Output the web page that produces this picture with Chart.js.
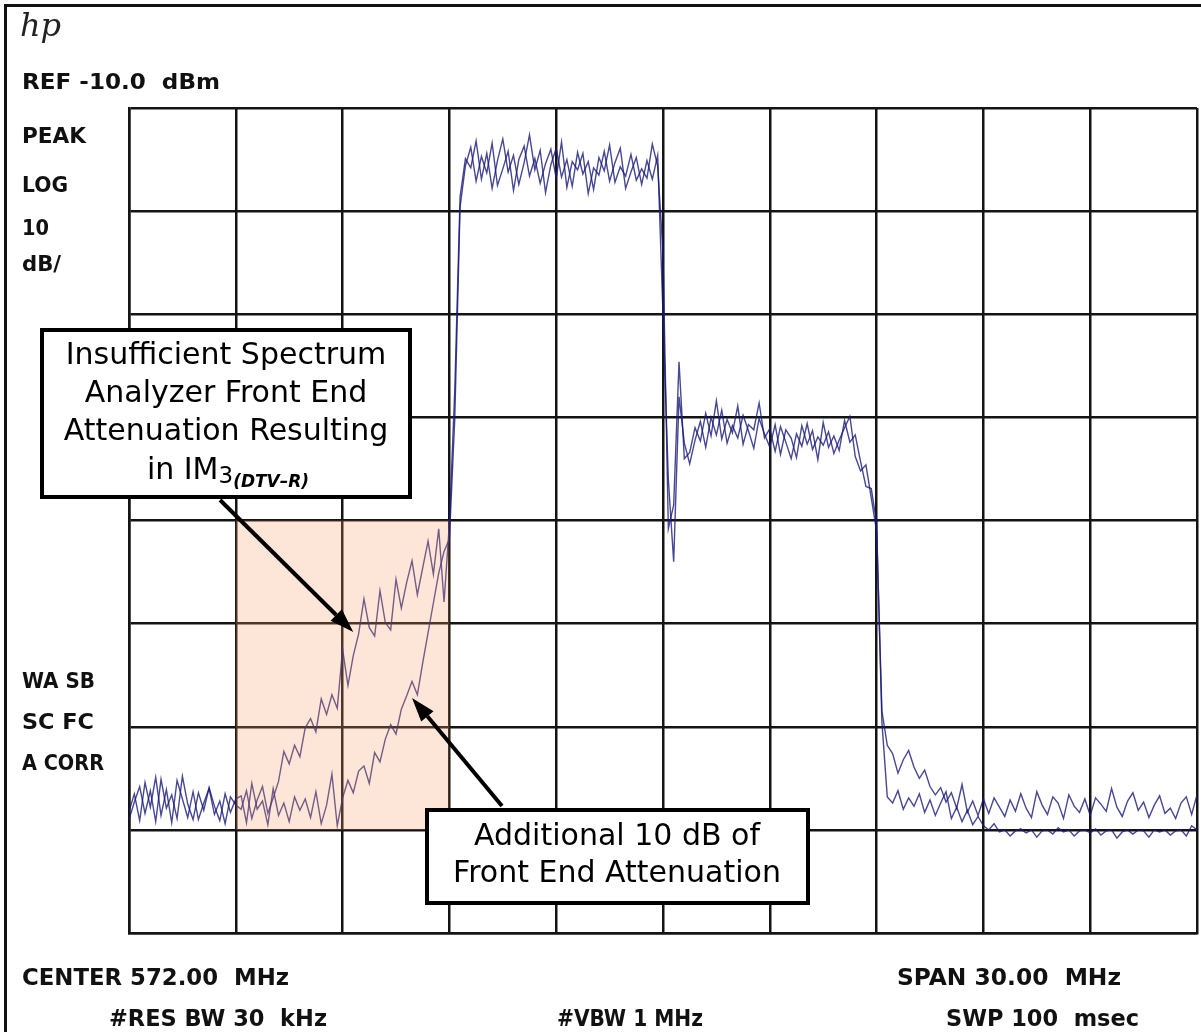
<!DOCTYPE html>
<html>
<head>
<meta charset="utf-8">
<title>Analyseur de spectre - IM3 (DTV-R)</title>
<script src="https://cdn.jsdelivr.net/npm/chart.js@4.4.1/dist/chart.umd.min.js"></script>
<style>
  html, body { margin: 0; padding: 0; background: #fff; }
  #wrap { position: relative; width: 1201px; height: 1032px; }
</style>
</head>
<body>
<div id="wrap"><canvas id="analyseur"></canvas></div>
<script>
// Balayage de l'analyseur : 557 à 587 MHz (centre 572 MHz, span 30 MHz)
const startMHz = 557;
const stepMHz = 0.15;
const spanMHz = [557, 587];
const refLevelDb = [-90, -10]; // 10 dB/div, REF -10 dBm

// Trace sans atténuation supplémentaire (IM3 visible à gauche)
const traceA = [
  -78.2, -76.5, -79.1, -75.4, -77.8, -74.9, -78.6, -76.1, -79.3, -75.2,
  -77.0, -78.8, -76.3, -79.0, -77.4, -76.0, -78.5, -77.2, -79.4, -76.8,
  -77.6, -78.0, -76.2, -78.9, -77.1, -75.8, -78.4, -76.9, -75.3, -72.4,
  -73.6, -71.8, -72.9, -70.1, -69.2, -70.5, -67.3, -68.8, -66.9, -68.2,
  -62.5, -66.0, -63.1, -61.0, -57.6, -60.4, -61.2, -56.8, -59.9, -60.6,
  -55.7, -58.5, -56.0, -53.9, -57.2, -54.6, -52.0, -55.2, -50.8, -57.9,
  -50.3, -37.5, -18.6, -14.9, -15.8, -13.2, -16.9, -14.4, -17.8, -15.1,
  -13.0, -16.2, -14.6, -17.4, -15.3, -12.6, -16.0, -14.1, -18.2, -15.5,
  -13.9, -16.7, -15.0, -17.6, -14.3, -16.4, -15.2, -17.9, -14.8, -16.1,
  -13.6, -17.2, -15.7, -16.6, -14.5, -17.0, -15.9, -16.8, -13.5, -15.6,
  -24.0, -50.8, -48.5, -34.6, -44.0, -43.4, -41.0, -42.3, -39.6, -41.8,
  -38.4, -42.1, -40.2, -41.5, -38.9, -42.6, -40.7, -41.2, -38.6, -42.0,
  -41.1, -43.3, -40.9, -42.4, -44.0, -41.6, -42.8, -40.6, -43.1, -41.9,
  -42.7, -41.4, -43.5, -42.2, -41.0, -39.9, -43.8, -45.2, -44.6, -47.8,
  -51.0, -68.5, -71.8, -72.6, -74.5, -73.2, -72.3, -73.9, -75.0, -74.2,
  -75.8, -76.6, -75.9, -77.3, -76.4, -77.9, -75.6, -78.3, -77.2, -78.6,
  -77.0, -78.4, -76.9, -77.8, -78.7, -77.1, -78.2, -76.5, -77.9, -78.8,
  -76.3, -77.6, -78.5, -76.8, -77.4, -78.9, -76.6, -77.7, -78.3, -77.0,
  -78.6, -76.9, -77.5, -78.2, -76.0, -77.8, -78.7, -77.2, -76.4, -78.1,
  -77.3, -78.8, -77.6, -76.7, -78.4, -77.9, -78.9, -77.4, -76.8, -78.5,
  -76.6,
];

// Trace avec 10 dB d'atténuation supplémentaire
const traceB = [
  -79.0, -77.3, -75.8, -78.4, -76.2, -79.2, -75.1, -77.9, -76.6, -78.9,
  -74.8, -77.5, -79.0, -76.4, -78.1, -75.9, -77.7, -79.1, -76.5, -78.3,
  -77.0, -76.7, -79.3, -75.5, -78.0, -77.2, -79.5, -76.0, -78.6, -77.4,
  -79.2, -76.8, -78.1, -77.0, -78.8, -76.3, -79.4, -77.6, -74.6, -79.6,
  -76.9, -75.2, -76.4, -74.3, -73.8, -75.5, -72.5, -73.4, -71.2, -69.8,
  -70.7, -68.3, -67.0, -65.6, -66.9, -63.8, -60.9, -58.0, -55.1, -53.0,
  -51.8, -40.2, -19.6, -15.6, -13.8, -17.1, -14.7, -16.3, -13.4, -17.5,
  -15.9, -14.2, -18.0, -15.0, -13.7, -16.6, -14.9, -17.3, -15.4, -14.0,
  -16.8, -13.3, -17.7, -15.2, -16.0, -14.4, -18.3, -15.8, -16.5, -14.2,
  -17.1, -15.3, -13.9, -17.8, -16.2, -14.8, -17.4, -15.1, -16.9, -14.6,
  -30.0, -46.0, -54.0, -38.0, -42.5, -44.5, -42.2, -40.4, -42.9, -40.0,
  -41.7, -39.3, -42.5, -40.8, -42.0, -39.8, -41.3, -43.0, -40.1, -41.6,
  -42.9, -40.7, -43.6, -41.2, -42.0, -43.9, -40.8, -42.6, -41.3, -44.1,
  -40.5, -42.9, -41.8, -43.2, -40.3, -42.4, -41.7, -44.3, -46.7, -46.9,
  -50.2, -69.6, -76.8, -77.4, -76.2, -78.0, -76.9, -77.7, -76.5, -78.3,
  -77.1, -78.6, -77.4, -76.3, -78.9, -77.8, -79.2, -78.1, -79.5, -78.7,
  -79.6, -80.0, -79.4, -80.2, -80.0, -80.6, -80.1, -79.9, -80.3, -80.0,
  -80.7, -80.1, -80.0, -80.4, -79.8, -80.2, -80.0, -80.6, -80.1, -80.0,
  -80.3, -79.9, -80.5, -80.1, -80.0, -80.8, -80.2, -80.0, -80.4, -80.0,
  -80.1, -80.7, -80.0, -80.2, -80.0, -80.5, -80.1, -80.0, -80.6, -79.6,
  -80.0,
];

// Zone IM3 surlignée (MHz, dBm)
const im3BandMHz = [560, 566];
const im3BandDb = [-50, -80];

// Pointes des flèches (MHz, dBm)
const arrowTipA = [563.3, -60.8];
const arrowTipB = [564.95, -67.2];

const toPoints = (trace) => trace.map((v, i) => ({ x: startMHz + i * stepMHz, y: v }));

// Textes de l'analyseur : [texte, x, ligne de base, largeur, taille]
const instrumentLabels = [
  ["REF -10.0  dBm", 22, 89, 198, 21],
  ["PEAK", 22, 143, 64, 22],
  ["LOG", 22, 192, 46, 22],
  ["10", 22, 235, 27, 22],
  ["dB/", 22, 271, 39, 22],
  ["WA SB", 22, 688, 73, 22],
  ["SC FC", 22, 729, 72, 22],
  ["A CORR", 22, 770, 82, 22],
  ["CENTER 572.00  MHz", 22, 985, 267, 23],
  ["#RES BW 30  kHz", 109, 1026, 218, 23],
  ["#VBW 1 MHz", 557, 1026, 146, 23],
  ["SPAN 30.00  MHz", 897, 985, 224, 23],
  ["SWP 100  msec", 946, 1026, 193, 23],
];

function drawArrow(ctx, x0, y0, x1, y1) {
  const ang = Math.atan2(y1 - y0, x1 - x0);
  const head = 24;
  const half = 8;
  const bx = x1 - head * Math.cos(ang);
  const by = y1 - head * Math.sin(ang);
  ctx.strokeStyle = "#000";
  ctx.fillStyle = "#000";
  ctx.lineWidth = 4;
  ctx.beginPath();
  ctx.moveTo(x0, y0);
  ctx.lineTo(bx, by);
  ctx.stroke();
  ctx.beginPath();
  ctx.moveTo(x1, y1);
  ctx.lineTo(bx + half * Math.sin(ang), by - half * Math.cos(ang));
  ctx.lineTo(bx - half * Math.sin(ang), by + half * Math.cos(ang));
  ctx.closePath();
  ctx.fill();
}

function drawBox(ctx, x0, y0, x1, y1) {
  ctx.fillStyle = "#fff";
  ctx.fillRect(x0, y0, x1 - x0, y1 - y0);
  ctx.strokeStyle = "#000";
  ctx.lineWidth = 4;
  ctx.strokeRect(x0 + 2, y0 + 2, x1 - x0 - 4, y1 - y0 - 4);
}

const overlay = {
  id: "overlay",
  afterDatasetsDraw(chart) {
    const { ctx, scales: { x, y } } = chart;
    const x0 = x.getPixelForValue(im3BandMHz[0]);
    const x1 = x.getPixelForValue(im3BandMHz[1]);
    const y0 = y.getPixelForValue(im3BandDb[0]);
    const y1 = y.getPixelForValue(im3BandDb[1]);
    ctx.save();
    ctx.fillStyle = "rgba(248, 156, 96, 0.25)";
    ctx.fillRect(x0, y0, x1 - x0, y1 - y0);
    ctx.restore();
  },
  afterDraw(chart) {
    const { ctx, scales: { x, y } } = chart;
    ctx.save();

    // Cadre de la copie d'écran
    ctx.fillStyle = "#111";
    ctx.fillRect(4, 4, 1197, 3);
    ctx.fillRect(4, 4, 3, 1028);

    // Logo hp
    ctx.fillStyle = "#222";
    ctx.font = "italic 32px 'DejaVu Serif'";
    ctx.textBaseline = "alphabetic";
    ctx.fillText("hp", 20, 36);

    // Textes de l'analyseur
    instrumentLabels.forEach(([txt, lx, ly, w, size]) => {
      ctx.font = "bold " + size + "px 'DejaVu Sans'";
      const m = ctx.measureText(txt).width;
      ctx.save();
      ctx.translate(lx, ly);
      ctx.scale(w / m, 1);
      ctx.fillStyle = "#111";
      ctx.fillText(txt, 0, 0);
      ctx.restore();
    });

    // Flèches
    drawArrow(ctx, 220, 500, x.getPixelForValue(arrowTipA[0]), y.getPixelForValue(arrowTipA[1]));
    drawArrow(ctx, 502, 806, x.getPixelForValue(arrowTipB[0]), y.getPixelForValue(arrowTipB[1]));

    // Bulle 1
    drawBox(ctx, 40, 328, 412, 499);
    ctx.fillStyle = "#000";
    ctx.textAlign = "center";
    ctx.font = "30px 'DejaVu Sans'";
    ctx.fillText("Insufficient Spectrum", 226, 364);
    ctx.fillText("Analyzer Front End", 226, 402);
    ctx.fillText("Attenuation Resulting", 226, 440);
    ctx.textAlign = "left";
    const p1 = "in IM";
    const p2 = "3";
    const p3 = "(DTV\u2013R)";
    ctx.font = "30px 'DejaVu Sans'";
    const w1 = ctx.measureText(p1).width;
    ctx.font = "23px 'DejaVu Sans'";
    const w2 = ctx.measureText(p2).width;
    ctx.font = "italic bold 17px 'DejaVu Sans'";
    const w3 = ctx.measureText(p3).width;
    let sx = 228 - (w1 + w2 + w3) / 2;
    ctx.font = "30px 'DejaVu Sans'";
    ctx.fillText(p1, sx, 479);
    sx += w1;
    ctx.font = "23px 'DejaVu Sans'";
    ctx.fillText(p2, sx, 483);
    sx += w2;
    ctx.font = "italic bold 17px 'DejaVu Sans'";
    ctx.fillText(p3, sx, 487);

    // Bulle 2
    drawBox(ctx, 425, 808, 810, 905);
    ctx.fillStyle = "#000";
    ctx.textAlign = "center";
    ctx.font = "30px 'DejaVu Sans'";
    ctx.fillText("Additional 10 dB of", 617, 845);
    ctx.fillText("Front End Attenuation", 617, 882);

    ctx.restore();
  },
};

const gridStyle = { color: "#141414", lineWidth: 2.5, drawTicks: false };
const borderStyle = { color: "#141414", width: 2.5 };

new Chart(document.getElementById("analyseur"), {
  type: "line",
  data: {
    datasets: [
      {
        label: "Insufficient front end attenuation",
        data: toPoints(traceA),
        borderColor: "rgba(25, 25, 120, 0.8)",
        borderWidth: 1.4,
        pointRadius: 0,
        tension: 0,
      },
      {
        label: "Additional 10 dB of front end attenuation",
        data: toPoints(traceB),
        borderColor: "rgba(25, 25, 120, 0.8)",
        borderWidth: 1.4,
        pointRadius: 0,
        tension: 0,
      },
    ],
  },
  options: {
    responsive: true,
    maintainAspectRatio: false,
    animation: false,
    events: [],
    layout: { padding: { left: 129, top: 108, right: 4, bottom: 99 } },
    plugins: { legend: { display: false }, tooltip: { enabled: false } },
    scales: {
      x: {
        type: "linear",
        min: spanMHz[0],
        max: spanMHz[1],
        ticks: { display: false, stepSize: 3 },
        grid: gridStyle,
        border: borderStyle,
      },
      y: {
        min: refLevelDb[0],
        max: refLevelDb[1],
        ticks: { display: false, stepSize: 10 },
        grid: gridStyle,
        border: borderStyle,
      },
    },
  },
  plugins: [overlay],
});
</script>
</body>
</html>
